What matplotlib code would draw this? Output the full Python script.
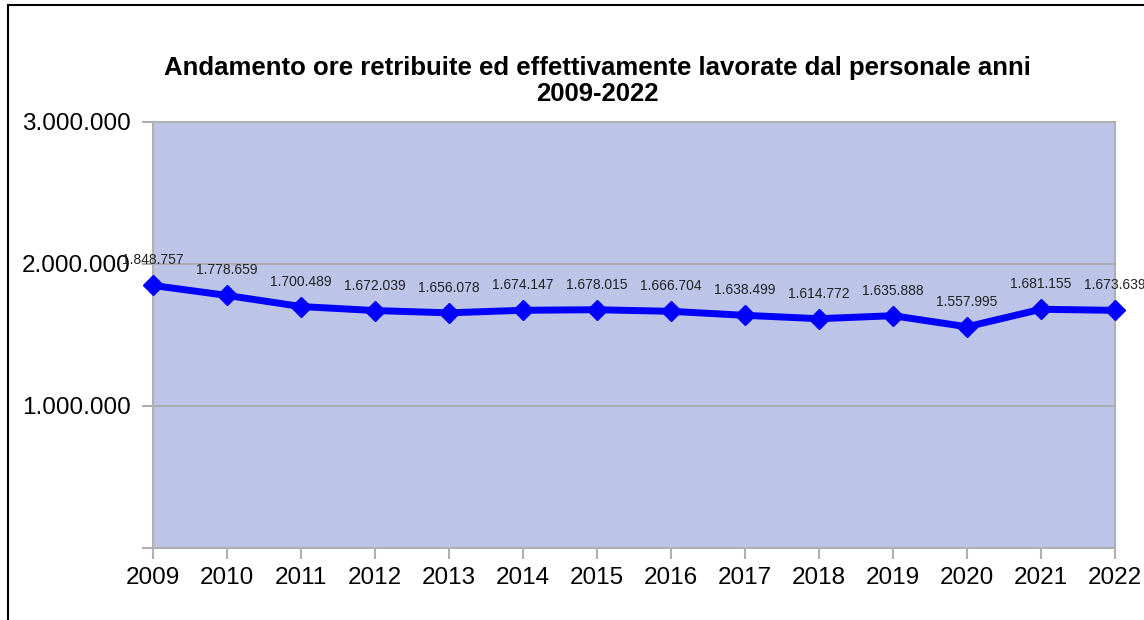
import numpy as np
import matplotlib
matplotlib.use("Agg")
import matplotlib.pyplot as plt
from matplotlib.ticker import FuncFormatter
from matplotlib.lines import Line2D

plt.rcParams['font.family'] = ['Liberation Sans', 'DejaVu Sans']

# dati
anni = [2009, 2010, 2011, 2012, 2013, 2014, 2015, 2016, 2017, 2018, 2019, 2020, 2021, 2022]
ore = [1848757, 1778659, 1700489, 1672039, 1656078, 1674147, 1678015, 1666704,
       1638499, 1614772, 1635888, 1557995, 1681155, 1673639]
y_ticks = [0, 1000000, 2000000, 3000000]

def fmt_it(v):
    return "{:,}".format(int(v)).replace(",", ".")

fig = plt.figure(figsize=(11.44, 6.2), dpi=100)
ax = fig.add_axes([153/1144, 72/620, (1115-153)/1144, (548-122)/620])
ax.set_facecolor('#bcc4e8')

ax.plot(anni, ore, color='#0000ff', lw=5, marker='D', markersize=10.5, zorder=3,
        clip_on=False)
for x, v in zip(anni, ore):
    ax.annotate(fmt_it(v), (x, v), xytext=(0, 18), textcoords='offset points',
                ha='center', va='center', fontsize=10, color='#222222', zorder=4)

ax.set_xlim(2009, 2022)
ax.set_ylim(0, 3000000)
ax.set_xticks(anni)
ax.set_yticks(y_ticks)
ax.yaxis.set_major_formatter(FuncFormatter(lambda v, p: fmt_it(v) if v > 0 else ""))
ax.tick_params(axis='both', labelsize=17.5, colors='#b0b0b0', labelcolor='black',
               length=8, width=1.5)
ax.tick_params(axis='y', pad=8)
ax.tick_params(axis='x', pad=6)
ax.grid(axis='y', color='#a8a8a8', lw=1.2)
ax.set_axisbelow(True)
for s in ax.spines.values():
    s.set_color('#b0b0b0')
    s.set_linewidth(1.5)

fig.text(597/1144, 1 - 81/620,
         "Andamento ore retribuite ed effettivamente lavorate dal personale anni\n2009-2022",
         ha='center', va='center', fontsize=18.5, fontweight='bold', linespacing=1.15)

# cornice esterna
fig.add_artist(Line2D([8/1144, 8/1144], [0, 1 - 5/620], transform=fig.transFigure,
                      color='black', lw=1.5))
fig.add_artist(Line2D([8/1144, 1], [1 - 5/620, 1 - 5/620], transform=fig.transFigure,
                      color='black', lw=1.5))

fig.savefig("out.png", dpi=100)
